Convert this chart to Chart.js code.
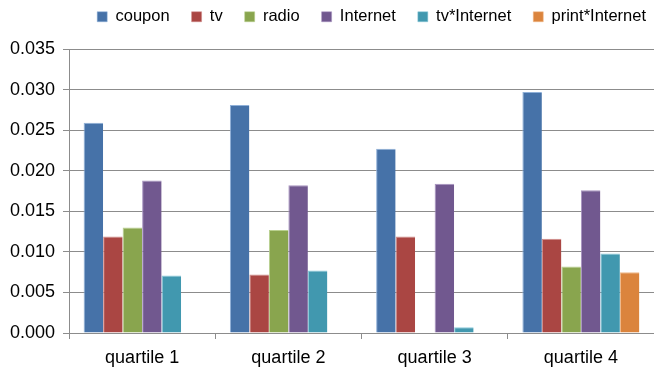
<!DOCTYPE html>
<html>
<head>
<meta charset="utf-8">
<script src="https://cdn.jsdelivr.net/npm/chart.js@4"></script>
<style>
  html, body { margin: 0; padding: 0; background: #fff; }
  #wrap { width: 654px; height: 371px; }
</style>
</head>
<body>
<div id="wrap"><canvas id="myChart" width="654" height="371"></canvas></div>
<script>
const categories = ['quartile 1', 'quartile 2', 'quartile 3', 'quartile 4'];
const seriesNames = ['coupon', 'tv', 'radio', 'Internet', 'tv*Internet', 'print*Internet'];

const coupon = [0.0259, 0.0281, 0.0227, 0.0297];
const tv = [0.0119, 0.0072, 0.0119, 0.0116];
const radio = [0.0130, 0.0127, null, 0.0082];
const internet = [0.0188, 0.0182, 0.0184, 0.0176];
const tvInternet = [0.0071, 0.0077, 0.0007, 0.0098];
const printInternet = [null, null, null, 0.0075];

const yTicks = [0, 0.005, 0.010, 0.015, 0.020, 0.025, 0.030, 0.035];

const colors = ['#4672A8', '#AA4643', '#89A54E', '#71588F', '#4198AF', '#DB843D'];
const edges = ['#8fb0d8', '#d08a88', '#b9d08e', '#a893c0', '#8ccbdb', '#f0b888'];
const values = [coupon, tv, radio, internet, tvInternet, printInternet];

const FONT = '"Liberation Sans", Arial, Helvetica, sans-serif';

// nudge the legend so it sits right-aligned and high like the original
const legendShift = {
  id: 'legendShift',
  afterLayout(chart) {
    const l = chart.legend;
    if (!l) return;
    l.left += 14;
    l.right += 14;
    l.top -= 14;
    l.bottom -= 14;
  }
};

const datasets = seriesNames.map((name, i) => ({
  label: name,
  data: values[i],
  backgroundColor: colors[i],
  borderColor: edges[i],
  borderWidth: { left: 1, top: 1, right: 0, bottom: 0 },
  borderSkipped: 'bottom'
}));

const ctx = document.getElementById('myChart').getContext('2d');
new Chart(ctx, {
  type: 'bar',
  data: { labels: categories, datasets: datasets },
  plugins: [legendShift],
  options: {
    responsive: false,
    animation: false,
    layout: { padding: { top: 0.5, left: 0, right: 0, bottom: 0 } },
    datasets: { bar: { categoryPercentage: 0.8, barPercentage: 1.0 } },
    scales: {
      x: {
        offset: true,
        grid: {
          display: true,
          offset: true,
          drawOnChartArea: false,
          drawTicks: true,
          tickLength: 6,
          color: '#8c8c8c'
        },
        border: { display: true, color: '#8c8c8c', width: 1 },
        ticks: {
          color: '#000',
          padding: 8,
          font: { family: FONT, size: 18 }
        },
        afterFit: (scale) => { scale.height = 38; }
      },
      y: {
        min: 0,
        max: 0.035,
        afterBuildTicks: (scale) => { scale.ticks = yTicks.map(v => ({ value: v })); },
        grid: {
          color: '#8c8c8c',
          lineWidth: 1,
          tickLength: 6
        },
        border: { display: true, color: '#8c8c8c', width: 1 },
        ticks: {
          color: '#000',
          padding: 8,
          font: { family: FONT, size: 18 },
          callback: (v) => Number(v).toFixed(3)
        },
        afterFit: (scale) => { scale.width = 69; }
      }
    },
    plugins: {
      legend: {
        display: true,
        position: 'top',
        align: 'end',
        labels: {
          boxWidth: 10,
          boxHeight: 10,
          padding: 22,
          color: '#000',
          font: { family: FONT, size: 16.5 }
        }
      },
      tooltip: { enabled: false }
    }
  }
});
</script>
</body>
</html>
